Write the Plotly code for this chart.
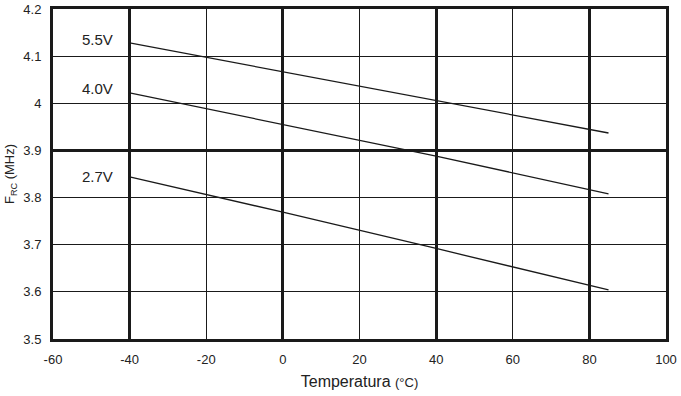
import plotly.graph_objects as go

temps = [-40, 0, 40, 85]
f_55 = [4.128, 4.067, 4.006, 3.937]
f_40 = [4.022, 3.955, 3.888, 3.808]
f_27 = [3.844, 3.769, 3.692, 3.604]
series_labels = ["5.5V", "4.0V", "2.7V"]
label_y = [4.136, 4.032, 3.845]
x_ticks = [-60, -40, -20, 0, 20, 40, 60, 80, 100]
x_ticktext = ["-60", "-40", "-20", "0", "20", "40", "60", "80", "100"]
y_ticks = [3.5, 3.6, 3.7, 3.8, 3.9, 4.0, 4.1, 4.2]
y_ticktext = ["3.5", "3.6", "3.7", "3.8", "3.9", "4", "4.1", "4.2"]

fig = go.Figure()
for ys in (f_55, f_40, f_27):
    fig.add_trace(go.Scatter(x=temps, y=ys, mode="lines",
                             line=dict(color="#1a1a1a", width=1.3),
                             showlegend=False, hoverinfo="skip"))

for lab, yv in zip(series_labels, label_y):
    fig.add_annotation(x=-48.5, y=yv, text=lab, showarrow=False,
                       font=dict(size=15, color="#222"), xref="x", yref="y")

# invisible trace on secondary axes for thick grid
fig.add_trace(go.Scatter(x=[-60, 100], y=[3.5, 4.2], xaxis="x2", yaxis="y2",
                         mode="markers", marker=dict(opacity=0), showlegend=False,
                         hoverinfo="skip"))

font = dict(family="Liberation Sans, Arial, sans-serif", size=13, color="#222")
fig.update_layout(
    width=681, height=396,
    margin=dict(l=53, r=15, t=9, b=57, autoexpand=False),
    paper_bgcolor="white", plot_bgcolor="white",
    font=font,
    xaxis=dict(range=[-60, 100], tickvals=x_ticks, ticktext=x_ticktext,
               showgrid=True, gridcolor="#1a1a1a", gridwidth=1,
               showline=True, linecolor="#1a1a1a", linewidth=3, mirror=True,
               zeroline=False, ticks="outside", ticklen=6, tickcolor="white",
               automargin=False,
               title=dict(text="Temperatura <span style='font-size:13px'>(°C)</span>",
                          font=dict(size=16), standoff=11)),
    yaxis=dict(range=[3.5, 4.2], tickvals=y_ticks, ticktext=y_ticktext,
               showgrid=True, gridcolor="#1a1a1a", gridwidth=1,
               showline=True, linecolor="#1a1a1a", linewidth=3, mirror=True,
               zeroline=False, ticks="outside", ticklen=6, tickcolor="white",
               automargin=False,
               title=dict(text="F<sub>RC</sub> (MHz)", font=dict(size=13), standoff=6)),
    xaxis2=dict(overlaying="x", range=[-60, 100], tickvals=[-40, 0, 40, 80],
                showgrid=True, gridcolor="#1a1a1a", gridwidth=2.5,
                showticklabels=False, zeroline=False, showline=False),
    yaxis2=dict(overlaying="y", range=[3.5, 4.2], tickvals=[3.9],
                showgrid=True, gridcolor="#1a1a1a", gridwidth=2.5,
                showticklabels=False, zeroline=False, showline=False),
)
fig.write_html("out.html", config={"displayModeBar": False},
               post_script="document.body.style.margin='0';document.body.style.overflow='hidden';")
